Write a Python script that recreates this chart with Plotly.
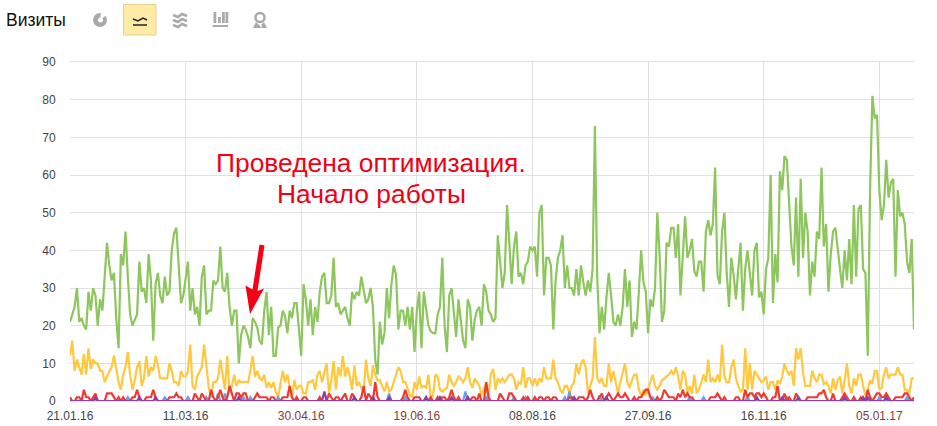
import pandas as pd
import plotly.graph_objects as go

start_date = "2016-01-21"
tick_dates = ["2016-01-21","2016-03-11","2016-04-30","2016-06-19","2016-08-08","2016-09-27","2016-11-16","2017-01-05"]
tick_labels = ["21.01.16","11.03.16","30.04.16","19.06.16","08.08.16","27.09.16","16.11.16","05.01.17"]
weekend_labels = ["30.04.16","19.06.16","05.01.17"]

green_1 = [21,23,25,30,21,22,20,19,29,24,30,28,20,27,24,33,42,36,32,34,22,14,39,36,45,33,23,20,21.5,23,37,29,30,26,39,32,16,31,34,28,26,33,28,29,40,44.5,46,36,26,28]
green_2 = [33,37,24,30,23,25,20,33,36,23,24,24,32,31,32,41,30,29,34,25,20,24,24,10,17.5,20,19,17,14,22,21,19.5,16,15,24,29,17.5,25,12,12,19.5,20,24,22.5,18,24,22,26,26,18]
green_3 = [12,31,27,20,27,17.5,25,21,29,33,34,26,26,28,38,25,26,23,24,25,22,20,29,27,29,28,33,29,26,27,30,25,11,7,21,15,18,30,22,31,36,33.5,19,24,24,20,25,19,25,13]
green_4 = [24,29,14,29,24,20,18.5,18,18,23,25,38,20,13,28,30,23.5,17,27,21.5,16,14,27,25,16,21.5,24,25,20,31,29,24,23,21,22,44,37,30,34,52,42,31,41,45,33,34,31,36,37,41]
green_5 = [40,41,33,50,52,28,38,38,36,19,32,38,40,44,30,36,30,30,28,35,28,36,31.5,28,32,29,35,73,33,18,25,19,27.5,34,28,21,20,23,20,25,35,25,32,17,21,19,29,40,31.5,29]
green_6 = [18,27,25,30,50,38.5,21,24,42,41,46,46,38,47,28,38,49,38,40,43,34.5,33,37,37,29,45,48,44,47,62,33.5,31,45,50,34,25,38,33.5,27,35,42,24,35,40,34,28,40,42,27.5,29]
green_7 = [23,35,38,60,26,39,31.5,61,56,65,64,52,41,36,54,33,59,38,50,45,28,37,33,45,43,62,41,47,29,39,45,46,40,35,30,40,32,43,31,52,33,51,52,35,34,12,56,81,75,76,56,48,52,64,54,58,59,33,56,49,50,47,37,34,43,19]
green = green_1 + green_2 + green_3 + green_4 + green_5 + green_6 + green_7

yellow_1 = [12,16,8,11,9,7,12.5,7,14,8.5,11,10,10,8,8,5,6.5,8,9,12,8,5,3,7,9,13,7,3,5.5,9,10.5,4,6,12,6.5,9,8,12,9.5,6,6,6,6,10,8,5,5,4,8,6.5]
yellow_2 = [6.5,8,15,4,3,6.5,8,9,15,9,3.5,1,5,5,6,11,6.5,3,12,2,4,7,4,5.5,5,5,5,5,8,12,6.5,8,6,5.5,7,3.5,5,3.5,5,2.5,1,5,8,5,7,4,1,5.5,3,4]
yellow_3 = [4,2,2,5,5,5.5,3,7,8,5,8,10,2,5.5,10.5,3,9,6.5,12,6.5,9,6.5,3,9.5,4,5,3.5,2.5,11,6,4,9.5,7,5.5,5.5,4,2.5,5,2.5,3,5,7,9,8,5,5,3,1.5,1,5]
yellow_4 = [3,6.5,3.5,4,3.5,7,1,1.5,7,6.5,3,2.5,3,3.5,7,5,4,5,6.5,6,5,6,9,5,3.5,6,5,4,1.5,3.5,5,1,7,8.5,3,6,5,6,5,6,7,7,6,3,5,4.5,9,3.5,6,6]
yellow_5 = [4,6,4,6,5,9,6,6,6,11,6,5,3,2,4,4,2,4,5,10,7,10,11,9,2,4,6,17,6,5,6,4,4,10,5,8,5,2,5,8,10,5,3.5,5.5,7,7,3,1.5,3,1.5]
yellow_6 = [3,5,7,4,3,4,5.5,6,6.5,7,8,7,9,6.5,3,8,7,2,4,2,7,2,3,5,7,5,11,5,6,5,7,5,15,6.5,5,5,9,11,6,4,2.5,3,14,3,10,3,8,7,6,5]
yellow_7 = [5.5,6.5,3,5,5,3,5.5,4.5,6.5,10,8,7,8,4,14,11,14,7.5,4,4,4,8,6,5,7,7,4.5,5,4,2,6,3,5.5,6.5,2,5.5,10,4,2,6,4,7,7,4,1.5,3,5.5,4.5,8,8,3,3.5,7,9,6,7,7,7,9,7,7,3,3,2,6,6]
yellow = yellow_1 + yellow_2 + yellow_3 + yellow_4 + yellow_5 + yellow_6 + yellow_7

red_1 = [1,0,0,1,1,0,3,1,1,0,1,2,0,0,0,0,2,2,2,1,0,1,0,1,0,0,0,1,1,3,1,0,0,1,1,1,3,1,0,0,0,0,0,1,1,1,2,1,1,0]
red_2 = [0,0,0,0,2,1,0,2,1,0,0,3,1,0,1,3,1,0,1,4,2,0,2,2,1,2,2,0,0,0,1,2,1,1,1,1,0,1,1,0,0,0,1,1,1,4,1,0,1,0]
red_3 = [0,1,1,0,0,0,0,0,1,0,0,0,2,1,0,1,1,0,1,2,0,0,2,1,0,0,1,4,0,2,1,0,5,1,0,0,0,0,0,0,0,0,0,0,1,3,1,0,0,1]
red_4 = [1,1,0,0,1,0,1,0,0,1,0,1,1,0,1,3,1,0,1,0,0,0,1,0,1,1,0,2,0,0,5,1,0,0,0,0,2,1,0,0,2,2,1,0,0,0,1,0,1,0]
red_5 = [0,1,0,1,1,0,1,1,0,1,1,0,0,0,0,0,1,1,0,0,1,1,1,0,1,3,1,0,0,1,2,0,1,2,1,0,1,2,1,1,2,1,0,0,1,0,1,1,2,3]
red_6 = [3,1,0,0,1,0,1,3,2,1,1,1,0,2,1,3,1,2,1,1,0,0,0,0,0,0,0,1,1,1,2,1,0,1,0,0,0,0,1,1,0,0,3,1,2,2,1,2,2,1]
red_7 = [2,1,0,0,1,1,4,0,0,2,0,1,0,0,2,1,0,0,0,1,1,1,1,1,2,2,3,1,0,0,2,0,0,0,1,2,1,0,0,1,0,0,1,0,0,3,1,0,1,2,2,1,1,2,1,0,0,1,1,1,1,2,2,1,0,1]
red = red_1 + red_2 + red_3 + red_4 + red_5 + red_6 + red_7

blue_days = [25,41,51,59,64,67,75,78,90,138,145,171,180,192,197,214,216,229,252,268,274,293,310,350,362]
blue_vals = [1,1,1,1,2,2,1,1,1,2,1,2.5,1,1,1,1,2.5,1.5,1,1,1,1,1,1,1]
purple_days = [11,30,37,73,110,123,131,138,154,160,165,172,218,232,297,308,315,335,343,345,353]
purple_vals = [1,1,1,1,2.5,1,1,1,1,1,1,1,1,1,1,1,1,1,1,1,1]

assert len(green) == 366 and len(yellow) == 366 and len(red) == 366, (len(green), len(yellow), len(red))

dates = pd.date_range(start_date, periods=366)
blue = [0] * 366
for d, v in zip(blue_days, blue_vals):
    blue[d] = v
purple = [0] * 366
for d, v in zip(purple_days, purple_vals):
    purple[d] = v

W, H = 937, 426
fig = go.Figure()
for vals, col, name in [(green, "#8cc65c", "green"), (yellow, "#ffc83f", "yellow"), (blue, "#6f9fe2", "blue"), (red, "#f03a2c", "red"), (purple, "#8d3fa6", "purple")]:
    fig.add_trace(go.Scatter(x=dates, y=vals, mode="lines", name=name, line=dict(color=col, width=2.2), hoverinfo="skip"))

ticktext = [f"<span style='color:#8a3b3b'>{t}</span>" if t in weekend_labels else t for t in tick_labels]
L, R, T, B = 70, 914, 62, 401
fig.update_layout(
    width=W, height=H, autosize=False, showlegend=False,
    paper_bgcolor="white", plot_bgcolor="white",
    margin=dict(l=L, r=W - R, t=T, b=H - B, pad=0),
    font=dict(family="Liberation Sans, Arial, sans-serif", size=12, color="#444"),
    xaxis=dict(range=[dates[0], dates[-1]], tickmode="array", tickvals=tick_dates, ticktext=ticktext, automargin=False,
               showgrid=True, gridcolor="#e0e0e0", gridwidth=1, showline=True, linecolor="#e0e0e0", linewidth=1,
               mirror=True, ticks="outside", ticklen=4, tickcolor="rgba(0,0,0,0)", zeroline=False,
               tickfont=dict(size=12, color="#444"), tickangle=0),
    yaxis=dict(range=[0, 90], tickmode="array", tickvals=list(range(0, 100, 10)), automargin=False,
               showgrid=True, gridcolor="#e0e0e0", gridwidth=1, showline=False,
               ticks="outside", ticklen=11, tickcolor="rgba(0,0,0,0)", zeroline=False, tickfont=dict(size=12, color="#444")),
)

def X(v): return (v - L) / (R - L)
def Y(v): return (B - v) / (B - T)
def poly(points, fill, line=None, lw=0):
    d = "M" + " L".join(f"{X(a):.5f},{Y(b):.5f}" for a, b in points) + " Z"
    fig.add_shape(type="path", xref="paper", yref="paper", path=d, fillcolor=fill,
                  line=dict(color=line or fill, width=lw), layer="above")
def rect(x0, y0, x1, y1, fill, line=None, lw=0):
    fig.add_shape(type="rect", xref="paper", yref="paper", x0=X(x0), x1=X(x1), y0=Y(y0), y1=Y(y1),
                  fillcolor=fill, line=dict(color=line or fill, width=lw), layer="above")
def stroke(points, color, lw):
    d = "M" + " L".join(f"{X(a):.5f},{Y(b):.5f}" for a, b in points)
    fig.add_shape(type="path", xref="paper", yref="paper", path=d, line=dict(color=color, width=lw), layer="above")

grey = "#a9a9a9"
# highlighted button
rect(123.5, 4.5, 156, 35, "#ffeba6", "#e6d28e", 1)
# pie icon
fig.add_shape(type="circle", xref="paper", yref="paper", x0=X(93), x1=X(107), y0=Y(27), y1=Y(13),
              fillcolor=grey, line=dict(color=grey, width=0), layer="above")
fig.add_shape(type="circle", xref="paper", yref="paper", x0=X(98), x1=X(103), y0=Y(22.5), y1=Y(17.5),
              fillcolor="white", line=dict(color="white", width=0), layer="above")
poly([(100, 20), (101, 12), (108, 14)], "white")
# line icon
stroke([(133, 19), (138, 21), (143, 18), (147, 20)], "#222", 1.5)
stroke([(133, 25), (147, 25)], "#222", 1.5)
# stacked icon
for y in (15, 20, 25):
    stroke([(173, y), (178, y + 2), (182, y - 1), (187, y + 1)], grey, 2.5)
# bars icon
for x, top in [(213.5, 12), (218, 17), (222, 12), (225.5, 12)]:
    rect(x, top, x + 2.8, 23, grey)
rect(212.5, 25, 228, 27, grey)
# pin icon
fig.add_shape(type="circle", xref="paper", yref="paper", x0=X(255.5), x1=X(264.5), y0=Y(22), y1=Y(13),
              fillcolor="white", line=dict(color=grey, width=2.5), layer="above")
poly([(253, 28), (256, 22), (262, 28)], grey)
poly([(264, 22), (267, 28), (262, 28), (261.5, 24.5)], grey)
# arrow
poly([(259.5, 244.5), (264.5, 245.5), (257.5, 291), (264, 288.5), (250, 314), (245.5, 285.5), (252.5, 289.5)], "#f50016")

fig.add_annotation(xref="paper", yref="paper", x=X(4), y=Y(20), xanchor="left", yanchor="middle", showarrow=False,
                   text="Визиты", font=dict(size=17.5, color="#111"))
fig.add_annotation(xref="paper", yref="paper", x=X(371), y=Y(162.5), xanchor="center", yanchor="middle", showarrow=False,
                   text="Проведена оптимизация.", font=dict(size=26.4, color="#f00014"))
fig.add_annotation(xref="paper", yref="paper", x=X(371), y=Y(193.5), xanchor="center", yanchor="middle", showarrow=False,
                   text="Начало работы", font=dict(size=26.4, color="#f00014"))

fig.write_html("out.html", post_script="document.body.style.margin='0';", config=dict(displayModeBar=False))
